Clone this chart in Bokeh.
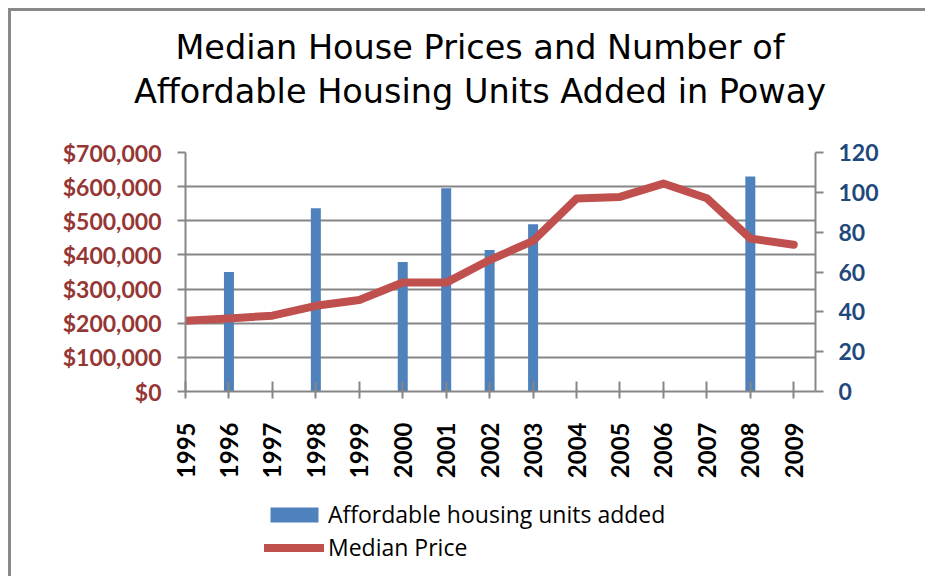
import math
from bokeh.plotting import figure
from bokeh.layouts import column
from bokeh.models import (Range1d, LinearAxis, FixedTicker, NumeralTickFormatter,
                          Legend, LegendItem, Div)
from bokeh.embed import file_html
from bokeh.resources import INLINE

# ---- data ----
years = [1995, 1996, 1997, 1998, 1999, 2000, 2001, 2002, 2003, 2004, 2005, 2006, 2007, 2008, 2009]
median_price = [207000, 214000, 222000, 251000, 268000, 319000, 319000, 385000,
                441000, 565000, 570000, 609000, 566000, 448000, 430000]
unit_years = [1996, 1998, 2000, 2001, 2002, 2003, 2008]
units_added = [60, 92, 65, 102, 71, 84, 108]
price_ticks = [0, 100000, 200000, 300000, 400000, 500000, 600000, 700000]
unit_ticks = [0, 20, 40, 60, 80, 100, 120]
title_lines = ["Median House Prices and Number of",
               "Affordable Housing Units Added in Poway"]
series_names = ["Affordable housing units added", "Median Price"]

W, H = 925, 580
HT = 130            # title strip height
H1 = 360            # chart height
H2 = H - HT - H1    # legend strip height
FL, FR = 185, 815
FT, FB = 152 - HT, 391 - HT
BAR_COLOR = "#4F81BD"
LINE_COLOR = "#C0504D"

border_css = """
:host { position: relative; }
:host::after {
  content: '';
  position: absolute;
  left: 8px;
  top: 8px;
  width: 917px;
  height: 565px;
  border-left: 3px solid #898989;
  border-top: 3px solid #898989;
  pointer-events: none;
  z-index: 10;
}
"""

title_html = ('<div style="width:890px;margin-left:35px;padding-top:26px;text-align:center;'
              'font-family:\'DejaVu Sans\';font-size:33.5px;line-height:44px;color:black;'
              'white-space:nowrap;">' + title_lines[0] + '<br>' + title_lines[1] + '</div>')
title_div = Div(text=title_html, width=W, height=HT, margin=0)

p = figure(width=W, height=H1, output_backend="svg", toolbar_location=None,
           x_range=Range1d(1995, 2009.5), y_range=Range1d(0, 700000),
           min_border_left=FL, min_border_right=W - FR,
           min_border_top=FT, min_border_bottom=H1 - FB,
           x_axis_location=None, y_axis_location=None)
p.outline_line_color = None
p.background_fill_color = "white"
p.border_fill_color = "white"

p.extra_y_ranges = {"units": Range1d(0, 120)}

GRAY = "#868686"
FONT = "Lato"

# axes
yl = LinearAxis(ticker=FixedTicker(ticks=price_ticks),
                formatter=NumeralTickFormatter(format="$0,0"))
yr = LinearAxis(y_range_name="units", ticker=FixedTicker(ticks=unit_ticks))
xb = LinearAxis(ticker=FixedTicker(ticks=years))
for ax in (yl, yr, xb):
    ax.axis_line_color = GRAY
    ax.axis_line_width = 2
    ax.major_tick_line_color = GRAY
    ax.major_tick_line_width = 2
    ax.minor_tick_line_color = None
    ax.major_label_text_font = FONT
    ax.major_label_text_font_style = "bold"
    ax.major_label_text_font_size = "23px"
yl.major_tick_in = 0
yl.major_tick_out = 8
yl.major_label_standoff = 16
yl.major_label_text_color = "#953735"
yr.major_tick_in = 0
yr.major_tick_out = 8
yr.major_label_standoff = 15
yr.major_label_text_color = "#1F497D"
xb.major_tick_in = 10
xb.major_tick_out = 7
xb.major_label_standoff = 24
xb.major_label_text_font_size = "24px"
xb.major_label_orientation = math.pi / 2
xb.major_label_text_color = "black"
p.add_layout(yl, "left")
p.add_layout(yr, "right")
p.add_layout(xb, "below")

p.xgrid.visible = False
p.ygrid.ticker = FixedTicker(ticks=price_ticks)
p.ygrid.grid_line_color = GRAY
p.ygrid.grid_line_width = 2

bars = p.vbar(x=unit_years, top=units_added, width=0.23, bottom=0,
              y_range_name="units", fill_color=BAR_COLOR, line_color=None)
line = p.line(years, median_price, line_width=8, line_color=LINE_COLOR,
              line_cap="round", line_join="round")

# legend strip below the chart (hidden proxy glyphs carry the legend swatches)
p2 = figure(width=W, height=H2, output_backend="svg", toolbar_location=None,
            x_range=Range1d(1995, 2009.5), y_range=Range1d(-2, -1), min_border=0,
            x_axis_location=None, y_axis_location=None)
p2.outline_line_color = None
p2.xgrid.visible = False
p2.ygrid.visible = False
p2.border_fill_color = "white"
lb = p2.vbar(x=unit_years, top=units_added, width=0.23, bottom=0,
             fill_color=BAR_COLOR, line_color=None, visible=False)
ll = p2.line(x=years, y=median_price, line_width=8, line_color=LINE_COLOR,
             line_cap="round", line_join="round", visible=False)
legend = Legend(items=[LegendItem(label=series_names[0], renderers=[lb]),
                       LegendItem(label=series_names[1], renderers=[ll])],
                location=(264 - FL, 17), orientation="vertical",
                glyph_width=60, glyph_height=19, label_height=19, spacing=1,
                label_standoff=4, padding=0, margin=0,
                border_line_color=None, background_fill_alpha=0,
                inactive_fill_alpha=0,
                label_text_font="Open Sans", label_text_font_size="23px",
                label_text_color="black")
p2.add_layout(legend, "center")

layout = column(title_div, p, p2, spacing=0, stylesheets=[border_css])

open("out.html", "w").write(file_html(layout, INLINE))
